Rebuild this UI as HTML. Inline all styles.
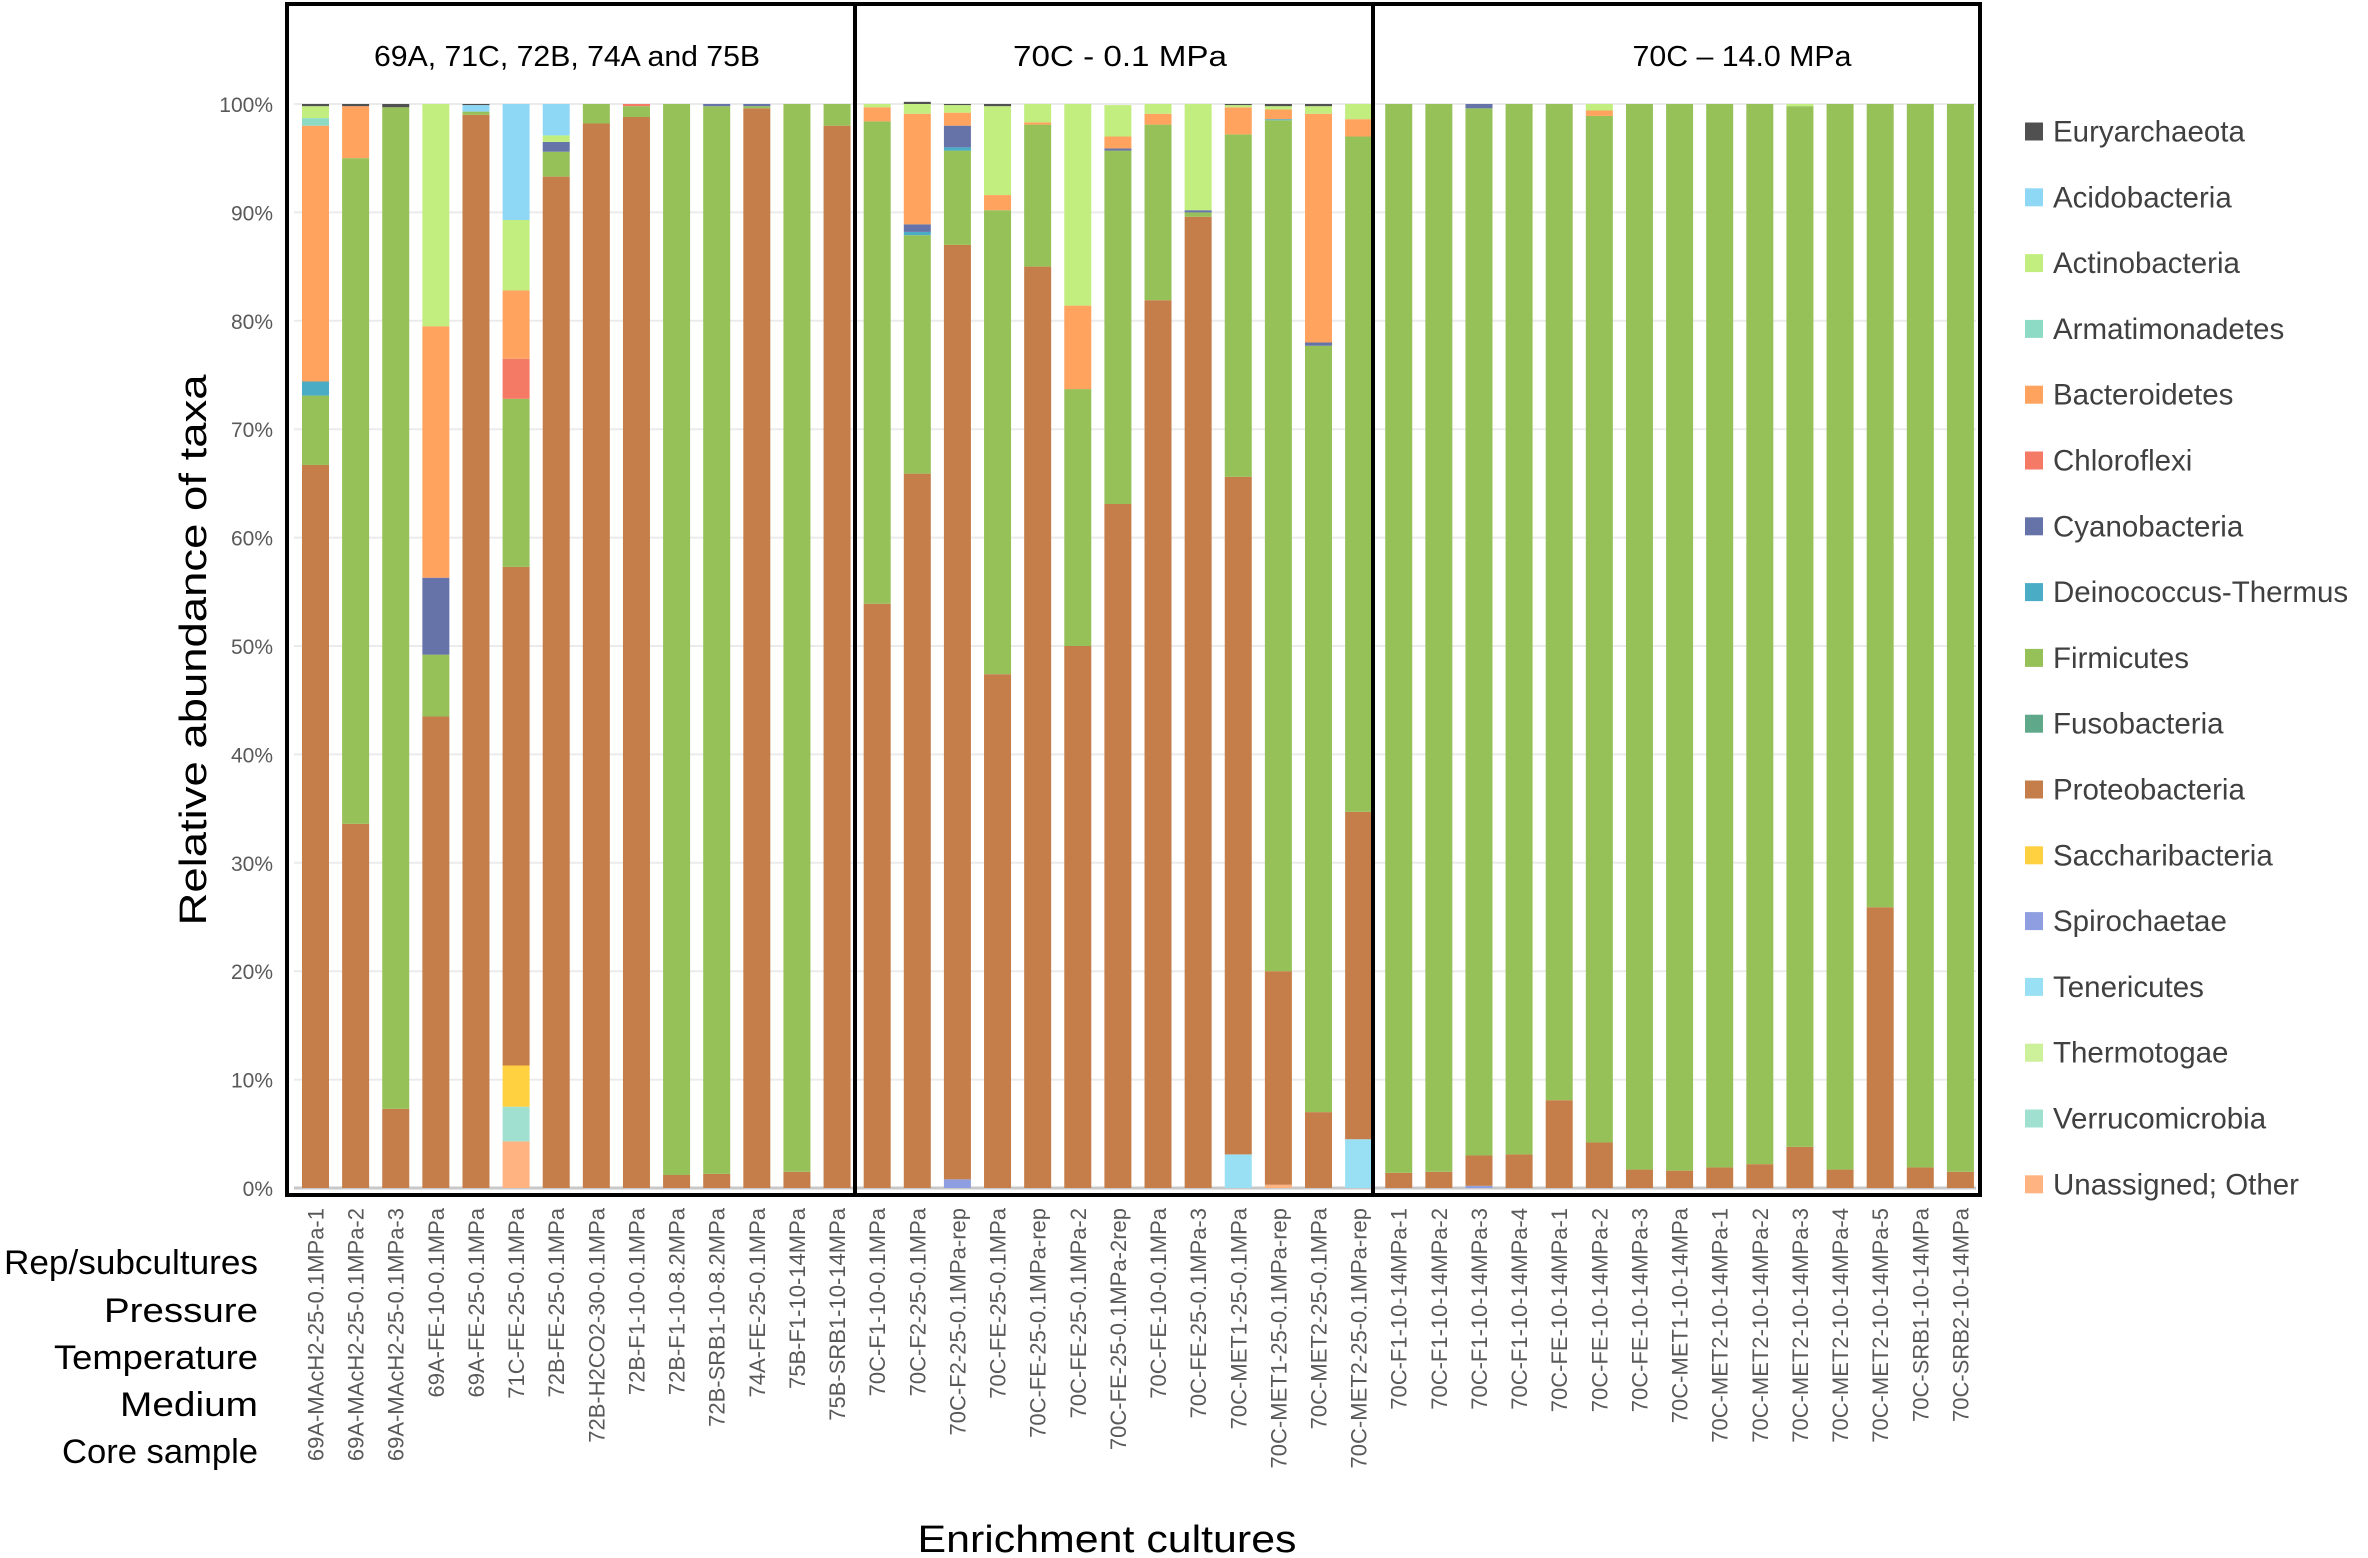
<!DOCTYPE html>
<html><head><meta charset="utf-8"><style>
html,body{margin:0;padding:0;background:#fff;}
svg{display:block;}
text{font-family:"Liberation Sans",sans-serif;}
</style></head><body>
<svg id="chart" width="2368" height="1558" viewBox="0 0 2368 1558" xmlns="http://www.w3.org/2000/svg">
<g id="grid"></g>
<g id="bars"></g>
<g id="yticks"></g>
<g id="xticks"></g>
<g id="legend"></g>
<g fill="none" stroke="#000" stroke-width="4">
<rect x="287" y="4" width="1693" height="1191"/>
<line x1="855" y1="4" x2="855" y2="1195"/>
<line x1="1373" y1="4" x2="1373" y2="1195"/>
</g>
<text x="567" y="66" font-size="29" text-anchor="middle" textLength="386" lengthAdjust="spacingAndGlyphs">69A, 71C, 72B, 74A and 75B</text>
<text x="1120" y="66" font-size="29" text-anchor="middle" textLength="214" lengthAdjust="spacingAndGlyphs">70C - 0.1 MPa</text>
<text x="1742" y="66" font-size="29" text-anchor="middle" textLength="219" lengthAdjust="spacingAndGlyphs">70C – 14.0 MPa</text>
<text transform="translate(206,650) rotate(-90)" font-size="38" text-anchor="middle" textLength="551" lengthAdjust="spacingAndGlyphs">Relative abundance of taxa</text>
<text x="1107" y="1552" font-size="38" text-anchor="middle" textLength="379" lengthAdjust="spacingAndGlyphs">Enrichment cultures</text>
<g font-size="34" text-anchor="end">
<text x="258" y="1274" textLength="254" lengthAdjust="spacingAndGlyphs">Rep/subcultures</text>
<text x="258" y="1322" textLength="154" lengthAdjust="spacingAndGlyphs">Pressure</text>
<text x="258" y="1369" textLength="204" lengthAdjust="spacingAndGlyphs">Temperature</text>
<text x="258" y="1416" textLength="138" lengthAdjust="spacingAndGlyphs">Medium</text>
<text x="258" y="1463" textLength="196" lengthAdjust="spacingAndGlyphs">Core sample</text>
</g>
</svg>
<script>
const categories = ["69A-MAcH2-25-0.1MPa-1","69A-MAcH2-25-0.1MPa-2","69A-MAcH2-25-0.1MPa-3","69A-FE-10-0.1MPa","69A-FE-25-0.1MPa","71C-FE-25-0.1MPa","72B-FE-25-0.1MPa","72B-H2CO2-30-0.1MPa","72B-F1-10-0.1MPa","72B-F1-10-8.2MPa","72B-SRB1-10-8.2MPa","74A-FE-25-0.1MPa","75B-F1-10-14MPa","75B-SRB1-10-14MPa",
"70C-F1-10-0.1MPa","70C-F2-25-0.1MPa","70C-F2-25-0.1MPa-rep","70C-FE-25-0.1MPa","70C-FE-25-0.1MPa-rep","70C-FE-25-0.1MPa-2","70C-FE-25-0.1MPa-2rep","70C-FE-10-0.1MPa","70C-FE-25-0.1MPa-3","70C-MET1-25-0.1MPa","70C-MET1-25-0.1MPa-rep","70C-MET2-25-0.1MPa","70C-MET2-25-0.1MPa-rep",
"70C-F1-10-14MPa-1","70C-F1-10-14MPa-2","70C-F1-10-14MPa-3","70C-F1-10-14MPa-4","70C-FE-10-14MPa-1","70C-FE-10-14MPa-2","70C-FE-10-14MPa-3","70C-MET1-10-14MPa","70C-MET2-10-14MPa-1","70C-MET2-10-14MPa-2","70C-MET2-10-14MPa-3","70C-MET2-10-14MPa-4","70C-MET2-10-14MPa-5","70C-SRB1-10-14MPa","70C-SRB2-10-14MPa"];
const taxa = ["Euryarchaeota","Acidobacteria","Actinobacteria","Armatimonadetes","Bacteroidetes","Chloroflexi","Cyanobacteria","Deinococcus-Thermus","Firmicutes","Fusobacteria","Proteobacteria","Saccharibacteria","Spirochaetae","Tenericutes","Thermotogae","Verrucomicrobia","Unassigned; Other"];
const taxaColors = ["#505050","#8fd8f5","#c2ee80","#8ddbc4","#ffa35e","#f47a66","#6673a8","#4bacc6","#96c159","#5fa88a","#c57e4a","#ffd040","#8f9ee0","#99e0f5","#cdf09a","#a0e0d0","#ffb380"];
const euryarchaeota = [0.2,0.2,0.3,0,0.1,0,0,0,0,0,0,0,0,0, 0,0.2,0.1,0.2,0,0,0,0,0,0.1,0.2,0.2,0, 0,0,0,0,0,0,0,0,0,0,0,0,0,0,0];
const acidobacteria = [0,0,0,0,0.6,10.7,2.9,0,0,0,0,0,0,0, 0,0,0,0,0,0,0,0,0,0,0,0,0, 0,0,0,0,0,0,0,0,0,0,0,0,0,0,0];
const actinobacteria = [1.1,0,0,20.5,0,6.5,0.6,0,0,0,0,0,0,0, 0.3,0.9,0.7,8.2,1.7,18.6,2.9,0.9,9.8,0.2,0.3,0.7,1.4, 0,0,0,0,0,0.6,0,0,0,0,0.2,0,0,0,0];
const armatimonadetes = [0.7,0,0,0,0,0,0,0,0,0,0,0,0,0, 0,0,0,0,0,0,0,0,0,0,0,0,0, 0,0,0,0,0,0,0,0,0,0,0,0,0,0,0];
const bacteroidetes = [23.6,4.8,0,23.2,0,6.3,0,0,0,0,0,0,0,0, 1.3,10.2,1.2,1.4,0.2,7.7,1.1,1.0,0,2.5,0.9,21.1,1.6, 0,0,0,0,0,0.5,0,0,0,0,0,0,0,0,0];
const chloroflexi = [0,0,0,0,0,3.7,0,0,0.2,0,0,0,0,0, 0,0,0,0,0,0,0,0,0,0,0,0,0, 0,0,0,0,0,0,0,0,0,0,0,0,0,0,0];
const cyanobacteria = [0,0,0,7.1,0,0,0.9,0,0,0,0.2,0.2,0,0, 0,0.7,2.0,0,0,0,0.2,0,0.2,0,0,0.3,0, 0,0,0.4,0,0,0,0,0,0,0,0,0,0,0,0];
const deinococcus = [1.3,0,0,0,0,0,0,0,0,0,0,0,0,0, 0,0.3,0.3,0,0,0,0,0,0,0,0.1,0,0, 0,0,0,0,0,0,0,0,0,0,0,0,0,0,0];
const firmicutes = [6.4,61.4,92.4,5.7,0.3,15.5,2.3,1.8,1.0,98.8,98.5,0.2,98.5,2.0, 44.5,22.0,8.7,42.8,13.1,23.7,32.6,16.2,0.4,31.6,78.5,70.7,62.3, 98.6,98.5,96.6,96.9,91.9,94.7,98.3,98.4,98.1,97.8,96.0,98.3,74.1,98.1,98.5];
const fusobacteria = [0,0,0,0,0,0,0,0,0,0,0,0,0,0, 0,0,0,0,0,0,0,0,0,0,0,0,0, 0,0,0,0,0,0,0,0,0,0,0,0,0,0,0];
const proteobacteria = [66.7,33.6,7.3,43.5,99.0,46.0,93.3,98.2,98.8,1.2,1.3,99.6,1.5,98.0, 53.9,65.9,86.2,47.4,85.0,50.0,63.1,81.9,89.6,62.5,19.7,7.0,30.2, 1.4,1.5,2.8,3.1,8.1,4.2,1.7,1.6,1.9,2.2,3.8,1.7,25.9,1.9,1.5];
const saccharibacteria = [0,0,0,0,0,3.8,0,0,0,0,0,0,0,0, 0,0,0,0,0,0,0,0,0,0,0,0,0, 0,0,0,0,0,0,0,0,0,0,0,0,0,0,0];
const spirochaetae = [0,0,0,0,0,0,0,0,0,0,0,0,0,0, 0,0,0.8,0,0,0,0,0,0,0,0,0,0, 0,0,0.2,0,0,0,0,0,0,0,0,0,0,0,0];
const tenericutes = [0,0,0,0,0,0,0,0,0,0,0,0,0,0, 0,0,0,0,0,0,0,0,0,3.1,0,0,4.5, 0,0,0,0,0,0,0,0,0,0,0,0,0,0,0];
const thermotogae = [0,0,0,0,0,0,0,0,0,0,0,0,0,0, 0,0,0,0,0,0,0,0,0,0,0,0,0, 0,0,0,0,0,0,0,0,0,0,0,0,0,0,0];
const verrucomicrobia = [0,0,0,0,0,3.2,0,0,0,0,0,0,0,0, 0,0,0,0,0,0,0,0,0,0,0,0,0, 0,0,0,0,0,0,0,0,0,0,0,0,0,0,0];
const unassigned = [0,0,0,0,0,4.3,0,0,0,0,0,0,0,0, 0,0,0,0,0,0,0,0,0,0,0.3,0,0, 0,0,0,0,0,0,0,0,0,0,0,0,0,0,0];
const yTickValues = [0,10,20,30,40,50,60,70,80,90,100];
const yTickLabels = ["0%","10%","20%","30%","40%","50%","60%","70%","80%","90%","100%"];

const series = [euryarchaeota,acidobacteria,actinobacteria,armatimonadetes,bacteroidetes,chloroflexi,cyanobacteria,deinococcus,firmicutes,fusobacteria,proteobacteria,saccharibacteria,spirochaetae,tenericutes,thermotogae,verrucomicrobia,unassigned];
const NS = "http://www.w3.org/2000/svg";
const Y0 = 1188, Y100 = 104, X0 = 315.5, STEP = 40.12, BW = 27;
function yScale(v){ return Y0 - (Y0 - Y100) * v / 100; }
function xScale(i){ return X0 + i * STEP; }
function mk(tag, attrs){ const e = document.createElementNS(NS, tag); for (const k in attrs) e.setAttribute(k, attrs[k]); return e; }

const grid = document.getElementById('grid');
const yt = document.getElementById('yticks');
yTickValues.forEach((v, k) => {
  const ln = mk('line', {x1: 294, x2: 1976, y1: yScale(v), y2: yScale(v), stroke: v === 0 ? '#c8c8c8' : '#ebebeb', 'stroke-width': v === 0 ? 3 : 2});
  
  
  grid.appendChild(ln);
  const t = mk('text', {x: 273, y: yScale(v) + 8, 'font-size': 21, fill: '#595959', 'text-anchor': 'end'});
  t.textContent = yTickLabels[k];
  
  
  yt.appendChild(t);
});

const bars = document.getElementById('bars');
categories.forEach((c, i) => {
  let acc = 0;
  for (let s = series.length - 1; s >= 0; s--) {
    const v = series[s][i];
    if (!v) continue;
    const r = mk('rect', {x: xScale(i) - BW / 2, y: yScale(acc + v), width: BW, height: yScale(acc) - yScale(acc + v), fill: taxaColors[s]});
    
    
    bars.appendChild(r);
    acc += v;
  }
});

const xt = document.getElementById('xticks');
categories.forEach((c, i) => {
  const t = mk('text', {transform: 'translate(' + (xScale(i) + 8) + ',1208) rotate(-90)', 'font-size': 22, fill: '#595959', 'text-anchor': 'end'});
  t.textContent = c;
  
  
  xt.appendChild(t);
});

const lg = document.getElementById('legend');
taxa.forEach((n, k) => {
  const cy = 131.5 + k * 65.8;
  const g = mk('g', {});
  
  
  const sq = mk('rect', {x: 2025, y: cy - 9, width: 18, height: 18, fill: taxaColors[k]});
  
  
  const t = mk('text', {x: 2053, y: cy + 10, 'font-size': 29.5, fill: '#404040'});
  t.textContent = n;
  
  
  g.appendChild(sq); g.appendChild(t); lg.appendChild(g);
});
</script>
</body></html>
